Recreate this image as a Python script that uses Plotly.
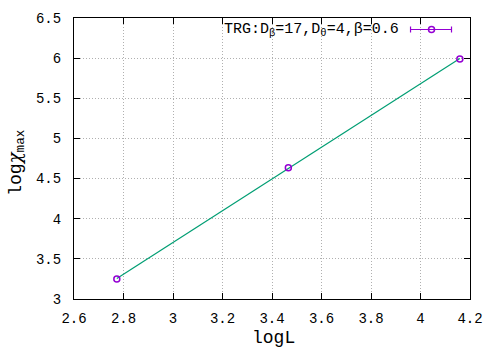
import numpy as np
import plotly.graph_objects as go

# data
logL = [2.773, 3.466, 4.159]
logchi = [3.25, 4.635, 5.99]
series_name = "TRG:D<sub>β</sub>=17,D<sub>θ</sub>=4,β=0.6"
x_ticks = [2.6, 2.8, 3.0, 3.2, 3.4, 3.6, 3.8, 4.0, 4.2]
x_ticktext = ["2.6", "2.8", "3", "3.2", "3.4", "3.6", "3.8", "4", "4.2"]
y_ticks = [3, 3.5, 4, 4.5, 5, 5.5, 6, 6.5]
y_ticktext = ["3", "3.5", "4", "4.5", "5", "5.5", "6", "6.5"]
x_title = "logL"
y_title = 'log<span style="font-family:DejaVu Serif;font-style:italic">χ</span><sub>max</sub>'

# linear fit through data
a, b = np.polyfit(logL, logchi, 1)
fit_x = [min(logL), max(logL)]
fit_y = [a * v + b for v in fit_x]

W, H = 498, 349
L, R, T, B = 74.3, 470.5, 18, 299
FONT = "Courier New, Liberation Mono, monospace"
PURPLE = "#9400d3"
GREEN = "#009e73"

fig = go.Figure()
fig.add_trace(go.Scatter(x=fit_x, y=fit_y, mode="lines",
                         line=dict(color=GREEN, width=1.2), showlegend=False, hoverinfo="skip"))
fig.add_trace(go.Scatter(x=logL, y=logchi, mode="markers",
                         marker=dict(symbol="circle-open", size=6, color=PURPLE, line=dict(width=1.5, color=PURPLE)),
                         showlegend=False))

def px(xp):
    return (xp - L) / (R - L)

def py(yp):
    return (B - yp) / (B - T)

shapes = [
    # opaque key background
    dict(type="rect", xref="paper", yref="paper", x0=px(218), x1=px(R - 1), y0=py(39), y1=py(T + 1),
         fillcolor="white", line=dict(width=0), layer="between"),
    # key sample: error bar line with caps
    dict(type="line", xref="paper", yref="paper", x0=px(411), x1=px(452), y0=py(29.5), y1=py(29.5),
         line=dict(color=PURPLE, width=1.2)),
    dict(type="line", xref="paper", yref="paper", x0=px(411), x1=px(411), y0=py(26.5), y1=py(32.5),
         line=dict(color=PURPLE, width=1.2)),
    dict(type="line", xref="paper", yref="paper", x0=px(452), x1=px(452), y0=py(26.5), y1=py(32.5),
         line=dict(color=PURPLE, width=1.2)),
    dict(type="circle", xref="paper", yref="paper", x0=px(429), x1=px(435), y0=py(32.5), y1=py(26.5),
         line=dict(color=PURPLE, width=1.5)),
]

annotations = [
    dict(text=series_name, xref="paper", yref="paper", x=px(222), y=py(29.5), xanchor="left", yanchor="middle",
         showarrow=False, font=dict(family=FONT, size=15, color="black")),
    dict(text=x_title, xref="paper", yref="paper", x=px(274), y=py(338), xanchor="center", yanchor="middle",
         showarrow=False, font=dict(family=FONT, size=18, color="black")),
    dict(text=y_title, xref="paper", yref="paper", x=px(16), y=py(163), xanchor="center", yanchor="middle",
         textangle=-90, showarrow=False, font=dict(family=FONT, size=18, color="black")),
]

axis_common = dict(showline=True, linecolor="black", linewidth=1, mirror="allticks", ticks="inside",
                   ticklen=6, tickcolor="black", showgrid=True, gridcolor="#b0b0b0", griddash="1px,2px",
                   gridwidth=1, zeroline=False, automargin=False,
                   tickfont=dict(family=FONT, size=14, color="black"))

fig.update_layout(
    width=W, height=H,
    margin=dict(l=L, r=W - R, t=T, b=H - B, pad=0),
    plot_bgcolor="white", paper_bgcolor="white",
    xaxis=dict(range=[2.6, 4.2], tickvals=x_ticks, ticktext=x_ticktext, ticklabelstandoff=6, **axis_common),
    yaxis=dict(range=[3, 6.5], tickvals=y_ticks, ticktext=y_ticktext, ticklabelstandoff=9, **axis_common),
    shapes=shapes, annotations=annotations,
)

fig.write_html("out.html", config={"displayModeBar": False},
               post_script="document.body.style.margin='0';document.body.style.overflow='hidden';")
